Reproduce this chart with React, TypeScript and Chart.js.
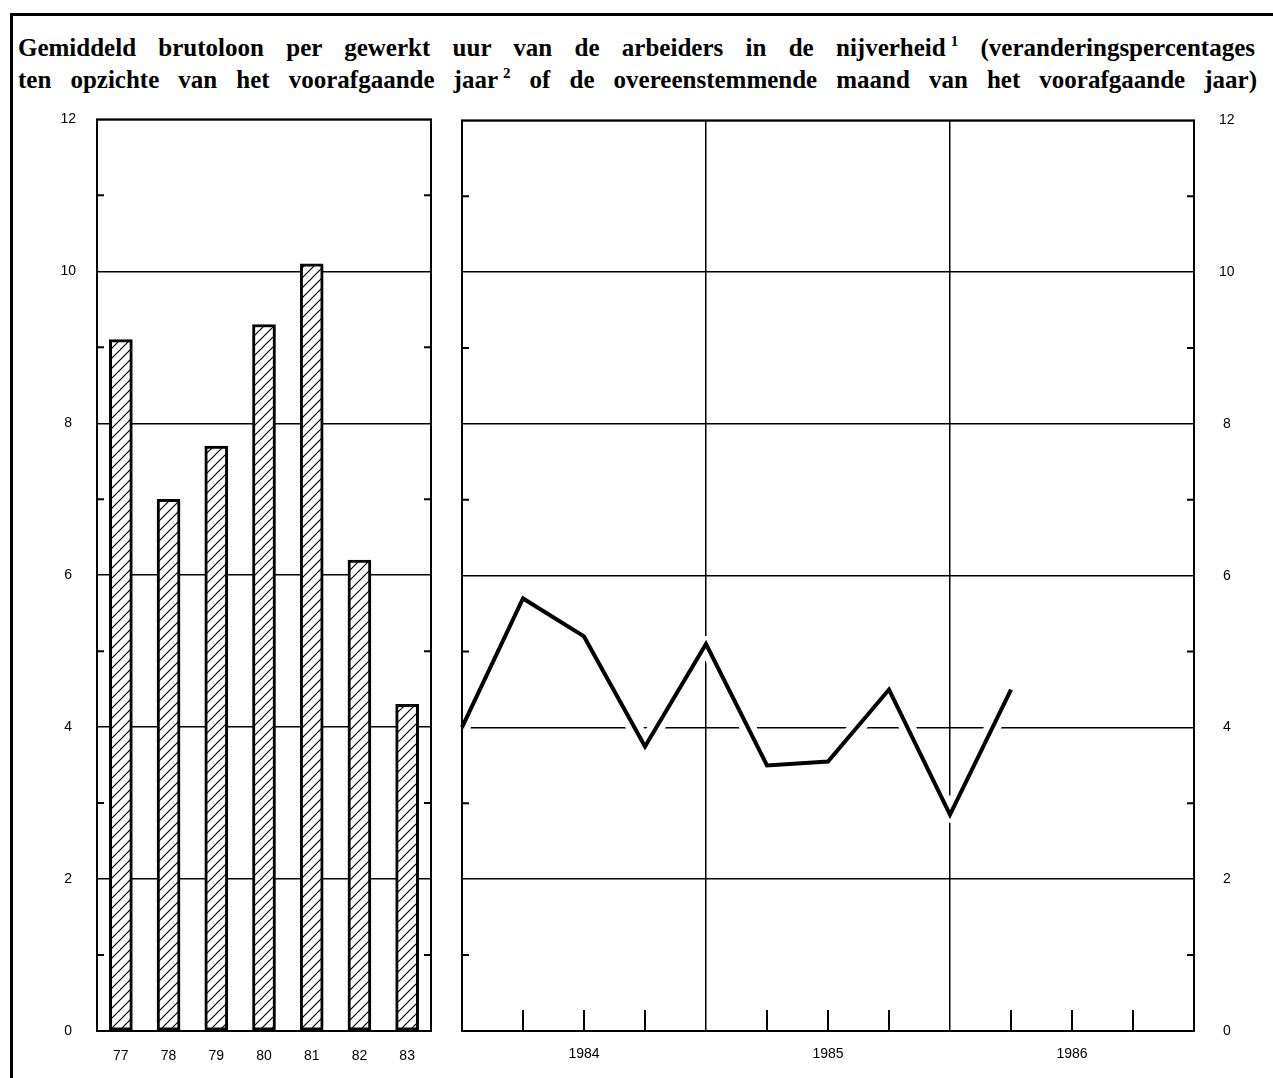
import React, { useEffect, useRef } from 'react';
import { Chart, registerables } from 'chart.js';

Chart.register(...registerables);

// ---------- data ----------
const barYears = ['77', '78', '79', '80', '81', '82', '83'];
const barValues = [9.1, 7.0, 7.7, 9.3, 10.1, 6.2, 4.3];

// quarter-end positions on the right panel (start of 1984 .. end of 1986)
const quarterEnds = [
  '1983 IV', '1984 I', '1984 II', '1984 III', '1984 IV',
  '1985 I', '1985 II', '1985 III', '1985 IV',
  '1986 I', '1986 II', '1986 III', '1986 IV',
];
const lineValues = [4.0, 5.7, 5.2, 3.75, 5.1, 3.5, 3.55, 4.5, 2.85, 4.5];
const yearLabels = ['1984', '1985', '1986'];

const yMin = 0;
const yMax = 12;
const yStep = 2;

const titleLine1 = 'Gemiddeld brutoloon per gewerkt uur van de arbeiders in de nijverheid';
const titleLine1b = '(veranderingspercentages';
const titleLine2a = 'ten opzichte van het voorafgaande jaar';
const titleLine2b = 'of de overeenstemmende maand van het voorafgaande jaar)';

const tickFont = { family: "'Liberation Sans', Arial, sans-serif", size: 14 };

// ---------- helpers ----------
function makeHatch(): CanvasPattern | string {
  const c = document.createElement('canvas');
  const s = 10;
  c.width = s;
  c.height = s;
  const g = c.getContext('2d');
  if (!g) return '#fff';
  g.fillStyle = '#fff';
  g.fillRect(0, 0, s, s);
  g.strokeStyle = '#000';
  g.lineWidth = 1.2;
  g.beginPath();
  g.moveTo(0, s);
  g.lineTo(s, 0);
  g.moveTo(-1, 1);
  g.lineTo(1, -1);
  g.moveTo(s - 1, s + 1);
  g.lineTo(s + 1, s - 1);
  g.stroke();
  return g.createPattern(c, 'repeat') || '#fff';
}

const frameTicks = {
  id: 'frameTicks',
  afterDraw(chart: any, _args: any, opts: any) {
    const { ctx, chartArea: a, scales } = chart;
    const y = scales.y;
    ctx.save();
    ctx.strokeStyle = '#000';
    ctx.lineWidth = 2;
    ctx.beginPath();
    for (let v = yMin + 1; v < yMax; v += yStep) {
      const py = y.getPixelForValue(v);
      ctx.moveTo(a.left, py);
      ctx.lineTo(a.left + 7, py);
      ctx.moveTo(a.right - 7, py);
      ctx.lineTo(a.right, py);
    }
    if (opts && opts.quarterTicks) {
      const x = scales.x;
      for (let i = 1; i < quarterEnds.length - 1; i++) {
        if (i % 4 === 0) continue;
        const px = x.getPixelForValue(i);
        ctx.moveTo(px, a.bottom);
        ctx.lineTo(px, a.bottom - 21);
      }
    }
    ctx.stroke();
    ctx.lineWidth = 2;
    ctx.strokeRect(a.left, a.top, a.right - a.left, a.bottom - a.top);
    ctx.restore();
  },
};

function BarPanel() {
  const ref = useRef<HTMLCanvasElement>(null);
  useEffect(() => {
    if (!ref.current) return;
    const chart = new Chart(ref.current, {
      type: 'bar',
      data: {
        labels: barYears,
        datasets: [
          {
            data: barValues,
            backgroundColor: makeHatch() as any,
            borderColor: '#000',
            borderWidth: 3,
            borderSkipped: false,
            barThickness: 23,
          },
        ],
      },
      options: {
        animation: false,
        responsive: false,
        maintainAspectRatio: false,
        layout: { autoPadding: false, padding: { top: 18, right: 9, left: 0, bottom: 0 } },
        plugins: {
          legend: { display: false },
          tooltip: { enabled: false },
          frameTicks: {},
        } as any,
        scales: {
          x: {
            grid: { display: false, drawTicks: false },
            border: { display: false },
            ticks: { padding: 17, font: tickFont, color: '#000', maxRotation: 0 },
            afterFit: (s: any) => {
              s.height = 44;
            },
          },
          y: {
            min: yMin,
            max: yMax,
            ticks: { stepSize: yStep, padding: 21, crossAlign: 'center', font: tickFont, color: '#000' },
            grid: { color: '#000', lineWidth: 1.5, drawTicks: false },
            border: { display: false },
            afterFit: (s: any) => {
              s.width = 57;
            },
          },
        },
      },
      plugins: [frameTicks as any],
    });
    return () => chart.destroy();
  }, []);
  return (
    <canvas
      ref={ref}
      width={400}
      height={985}
      style={{ position: 'absolute', left: 40, top: 90, width: 400, height: 985 }}
    />
  );
}

function LinePanel() {
  const ref = useRef<HTMLCanvasElement>(null);
  useEffect(() => {
    if (!ref.current) return;
    const chart = new Chart(ref.current, {
      type: 'line',
      data: {
        labels: quarterEnds,
        datasets: [
          {
            data: lineValues,
            borderColor: '#000',
            borderWidth: 4,
            pointRadius: 0,
            tension: 0,
            order: 0,
            borderJoinStyle: 'miter',
            fill: false,
          },
          {
            data: lineValues,
            borderColor: '#fff',
            borderWidth: 16,
            pointRadius: 0,
            tension: 0,
            order: 1,
            borderJoinStyle: 'round',
            fill: false,
          },
        ],
      },
      options: {
        animation: false,
        responsive: false,
        maintainAspectRatio: false,
        layout: { autoPadding: false, padding: { top: 18, right: 6, left: 22, bottom: 0 } },
        plugins: {
          legend: { display: false },
          tooltip: { enabled: false },
          frameTicks: { quarterTicks: true },
        } as any,
        scales: {
          x: {
            offset: false,
            grid: {
              color: (c: any) => (c.index % 4 === 0 ? '#000' : 'rgba(0,0,0,0)'),
              lineWidth: 1.5,
              drawTicks: false,
            },
            border: { display: false },
            ticks: {
              autoSkip: false,
              maxRotation: 0,
              padding: 15,
              font: tickFont,
              color: '#000',
              callback: (_v: any, i: number) => (i % 4 === 2 ? yearLabels[(i - 2) / 4] : ''),
            },
            afterFit: (s: any) => {
              s.height = 44;
            },
          },
          y: {
            position: 'right',
            min: yMin,
            max: yMax,
            ticks: { stepSize: yStep, padding: 25, crossAlign: 'center', font: tickFont, color: '#000' },
            grid: { color: '#000', lineWidth: 1.5, drawTicks: false },
            border: { display: false },
            afterFit: (s: any) => {
              s.width = 60;
            },
          },
        },
      },
      plugins: [frameTicks as any],
    });
    return () => chart.destroy();
  }, []);
  return (
    <canvas
      ref={ref}
      width={820}
      height={988}
      style={{ position: 'absolute', left: 440, top: 87, width: 820, height: 988 }}
    />
  );
}

const titleStyle: React.CSSProperties = {
  position: 'absolute',
  left: 18,
  fontFamily: "'Liberation Serif', 'Times New Roman', serif",
  fontWeight: 'bold',
  fontSize: 25,
  lineHeight: '32px',
  textAlign: 'justify',
  textAlignLast: 'justify' as any,
  color: '#000',
};

const supStyle: React.CSSProperties = {
  fontSize: 15,
  position: 'relative',
  top: -10,
  marginLeft: 5,
};

export default function App() {
  return (
    <div
      style={{
        position: 'absolute',
        left: 0,
        top: 0,
        width: 1273,
        height: 1078,
        overflow: 'hidden',
        background: '#fff',
      }}
    >
      <div
        style={{
          position: 'absolute',
          left: 10,
          top: 13,
          width: 1300,
          height: 1100,
          borderTop: '3px solid #000',
          borderLeft: '3px solid #000',
        }}
      />
      <div style={{ ...titleStyle, top: 32, width: 1237 }}>
        {titleLine1}
        <span style={supStyle}>1</span> {titleLine1b}
      </div>
      <div style={{ ...titleStyle, top: 64, width: 1239 }}>
        {titleLine2a}
        <span style={supStyle}>2</span> {titleLine2b}
      </div>
      <BarPanel />
      <LinePanel />
    </div>
  );
}
